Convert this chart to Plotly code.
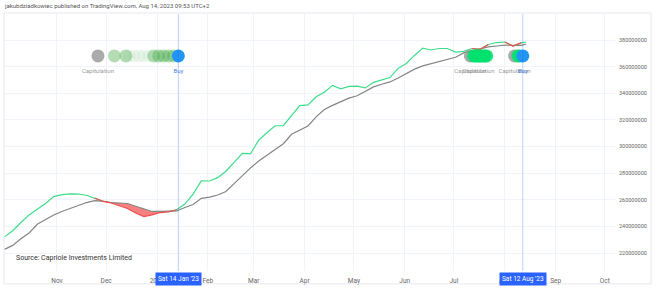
import pandas as pd
import plotly.graph_objects as go

# ---- data ----
dates = list(pd.date_range("2022-09-30", periods=64, freq="5D").strftime("%Y-%m-%d")) + ["2023-08-14"]

ma30 = [232.1, 236.7, 242.9, 248.6, 252.8, 257.2, 262.4, 263.8, 264.4, 264.3,
        263.4, 261.3, 258.8, 257.7, 255.8, 253.4, 250.1, 247.4, 248.6, 250.4,
        250.9, 252.5, 256.8, 264.2, 274.2, 274.1, 276.6, 281.4, 288.1, 294.9,
        294.6, 304.8, 310.3, 315.6, 315.6, 323.1, 330.7, 331.3, 337.3, 340.7,
        345.9, 343.3, 345.2, 345.3, 344.0, 348.2, 350.3, 351.8, 358.7, 362.4,
        368.4, 373.9, 372.5, 373.6, 373.6, 370.9, 371.5, 373.6, 373.0, 376.6,
        378.1, 378.5, 375.5, 377.8, 378.5]

ma60 = [222.7, 225.7, 230.7, 235.0, 241.6, 245.2, 248.6, 251.2, 253.6, 255.9,
        257.9, 259.4, 259.0, 257.9, 257.5, 257.2, 255.1, 253.0, 251.2, 251.2,
        251.2, 251.6, 254.2, 256.4, 261.1, 262.0, 263.6, 266.2, 272.1, 278.4,
        283.9, 289.1, 293.3, 297.6, 302.1, 309.2, 312.4, 315.4, 322.3, 327.8,
        330.9, 333.9, 336.3, 338.1, 341.4, 344.8, 346.8, 348.5, 351.5, 355.0,
        358.1, 360.6, 362.2, 364.0, 365.9, 367.0, 370.3, 371.8, 373.6, 374.8,
        375.5, 376.1, 376.0, 376.0, 377.0]

SCALE = 1e6
cap_start_dates = ["2022-11-26", "2023-07-11", "2023-08-07"]
cap_dates_left = ["2022-12-06", "2022-12-13", "2022-12-30", "2023-01-02",
                  "2023-01-05", "2023-01-08", "2023-01-11"]
cap_faded_dates = ["2022-12-15", "2022-12-18", "2022-12-21", "2022-12-24", "2022-12-27"]
cap_dates_right = ["2023-07-13", "2023-07-14", "2023-07-15", "2023-07-16", "2023-07-17",
                   "2023-07-18", "2023-07-19", "2023-07-20", "2023-07-21",
                   "2023-08-09", "2023-08-10"]
buy_dates = ["2023-01-14", "2023-08-12"]
cap_label_dates = ["2022-11-26", "2023-07-11", "2023-07-16", "2023-08-07"]
signal_level = 368.0
label_level = 356.5

tick_dates = ["2022-11-01", "2022-12-01", "2023-01-01", "2023-02-01", "2023-03-01",
              "2023-04-01", "2023-05-01", "2023-06-01", "2023-07-01", "2023-08-01",
              "2023-09-01", "2023-10-01"]
tick_text = ["Nov", "Dec", "2023", "Feb", "Mar", "Apr", "May", "Jun", "Jul", "Aug", "Sep", "Oct"]
y_ticks = [220, 240, 260, 280, 300, 320, 340, 360, 380]
hl_labels = ["Sat 14 Jan '23", "Sat 12 Aug '23"]

# ---- derived ----
g = [v * SCALE for v in ma30]
s = [v * SCALE for v in ma60]
low = [min(a, b) for a, b in zip(g, s)]
below = [a < b for a, b in zip(g, s)]
n = len(g)
green_y, red_y = [], []
for i in range(n):
    near_below = below[i] or (i > 0 and below[i - 1]) or (i < n - 1 and below[i + 1])
    near_above = (not below[i]) or (i > 0 and not below[i - 1]) or (i < n - 1 and not below[i + 1])
    green_y.append(g[i] if near_above else None)
    red_y.append(g[i] if near_below else None)

FONT = "Roboto"
fig = go.Figure()

# fill between (red where 30d < 60d)
fig.add_trace(go.Scatter(x=dates, y=s, mode="lines", line=dict(width=0, color="rgba(0,0,0,0)"),
                         hoverinfo="skip", showlegend=False))
fig.add_trace(go.Scatter(x=dates, y=low, mode="lines", line=dict(width=0, color="rgba(0,0,0,0)"),
                         fill="tonexty", fillcolor="rgba(245,85,85,0.75)", hoverinfo="skip",
                         showlegend=False))
# lines
fig.add_trace(go.Scatter(x=dates, y=s, mode="lines", line=dict(color="#858585", width=1.2),
                         showlegend=False))
fig.add_trace(go.Scatter(x=dates, y=green_y, mode="lines", line=dict(color="#3ddc8a", width=1.2),
                         connectgaps=False, showlegend=False))
fig.add_trace(go.Scatter(x=dates, y=red_y, mode="lines", line=dict(color="#f05050", width=1.2),
                         connectgaps=False, showlegend=False))

sig = signal_level * SCALE
fig.add_trace(go.Scatter(x=cap_faded_dates, y=[sig] * len(cap_faded_dates), mode="markers",
                         marker=dict(size=13, color="rgba(76,175,80,0.07)", line=dict(width=0)),
                         showlegend=False))
fig.add_trace(go.Scatter(x=cap_start_dates, y=[sig] * len(cap_start_dates), mode="markers",
                         marker=dict(size=13, color="rgba(150,150,150,0.8)", line=dict(width=0)),
                         showlegend=False))
fig.add_trace(go.Scatter(x=cap_dates_left, y=[sig] * len(cap_dates_left), mode="markers",
                         marker=dict(size=13, color="rgba(76,175,80,0.42)", line=dict(width=0)),
                         showlegend=False))
fig.add_trace(go.Scatter(x=cap_dates_right, y=[sig] * len(cap_dates_right), mode="markers",
                         marker=dict(size=13, color="rgba(0,225,110,0.85)", line=dict(width=0)),
                         showlegend=False))
fig.add_trace(go.Scatter(x=buy_dates, y=[sig] * len(buy_dates), mode="markers",
                         marker=dict(size=13, color="#2196f3", line=dict(width=0)),
                         showlegend=False))
lab = label_level * SCALE
fig.add_trace(go.Scatter(x=cap_label_dates, y=[lab] * len(cap_label_dates), mode="text",
                         text=["Capitulation"] * len(cap_label_dates),
                         textfont=dict(family=FONT, size=6, color="#9a9a9a"), showlegend=False))
fig.add_trace(go.Scatter(x=buy_dates, y=[lab] * len(buy_dates), mode="text",
                         text=["Buy"] * len(buy_dates),
                         textfont=dict(family=FONT, size=6, color="#4a7fe8"), showlegend=False))

shapes = []
for d in buy_dates:
    shapes.append(dict(type="line", xref="x", yref="paper", x0=d, x1=d, y0=0, y1=1,
                       line=dict(color="rgba(41,98,255,0.3)", width=1)))
shapes.append(dict(type="rect", xref="paper", yref="paper", x0=0, x1=1.059, y0=-0.05, y1=1.004,
                   line=dict(color="#e6e8ee", width=1), fillcolor="rgba(0,0,0,0)"))

annotations = []
for d, t in zip(buy_dates, hl_labels):
    annotations.append(dict(x=d, y=-0.031, xref="x", yref="paper", text=t, showarrow=False,
                            font=dict(family=FONT, size=6.5, color="white"), bgcolor="#2962ff",
                            borderpad=2, yanchor="middle"))
annotations.append(dict(x=-0.003, y=1.035, xref="paper", yref="paper", xanchor="left", yanchor="middle",
                        text="jakubdziadkowiec published on TradingView.com, Aug 14, 2023 09:53 UTC+2",
                        showarrow=False, font=dict(family=FONT, size=6, color="#555555")))
annotations.append(dict(x=0.016, y=0.05, xref="paper", yref="paper", xanchor="left", yanchor="middle",
                        text="Source: Capriole Investments Limited", showarrow=False,
                        font=dict(family=FONT, size=7, color="#333333")))
annotations.append(dict(x=0.0, y=-0.072, xref="paper", yref="paper", xanchor="left", yanchor="top",
                        text="<b>TV</b> TradingView", showarrow=False,
                        font=dict(family=FONT, size=6, color="#333333")))

fig.update_layout(
    width=660, height=292,
    margin=dict(l=4, r=45, t=14, b=21),
    paper_bgcolor="white", plot_bgcolor="white",
    shapes=shapes, annotations=annotations,
    showlegend=False,
)
fig.update_xaxes(range=["2022-09-29 17:00", "2023-10-07 05:00"], tickvals=tick_dates, ticktext=tick_text,
                 showgrid=True, gridcolor="#f0f3fa", gridwidth=1, zeroline=False, showline=False,
                 tickfont=dict(family=FONT, size=6.5, color="#666666"), ticks="", ticklabelstandoff=4)
fig.update_yaxes(range=[206.48e6, 399.53e6], side="right", tickvals=[v * SCALE for v in y_ticks],
                 tickformat="d", showgrid=True, gridcolor="#f0f3fa", gridwidth=1, zeroline=False,
                 showline=False, tickfont=dict(family=FONT, size=5.5, color="#666666"), ticks="",
                 ticklabelstandoff=3)

fig.write_html("out.html")
